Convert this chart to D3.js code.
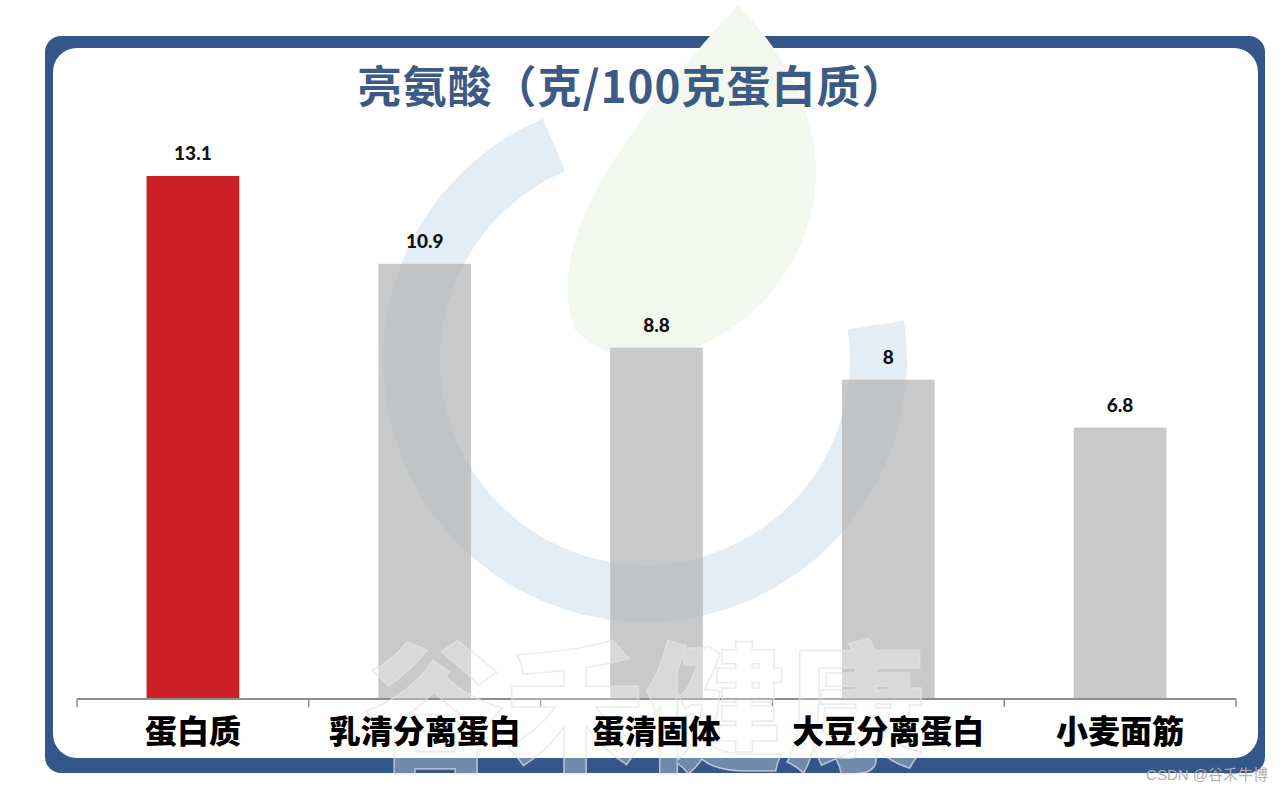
<!DOCTYPE html>
<html>
<head>
<meta charset="utf-8">
<script src="https://cdn.jsdelivr.net/npm/d3@7/dist/d3.min.js"></script>
<style>
  html, body { margin: 0; padding: 0; background: #ffffff; }
  svg { display: block; }
</style>
</head>
<body>
<svg id="chart" width="1285" height="793"></svg>
<script>
// ---- data ----
const categories = ["蛋白质", "乳清分离蛋白", "蛋清固体", "大豆分离蛋白", "小麦面筋"];
const values = [13.1, 10.9, 8.8, 8, 6.8];
const valueLabels = ["13.1", "10.9", "8.8", "8", "6.8"];
const barColors = ["#cc1f26", "#c9c9c9", "#c9c9c9", "#c9c9c9", "#c9c9c9"];
const titleText = "亮氨酸（克/100克蛋白质）";
const watermarkText = "谷禾健康";
const creditText = "CSDN @谷禾牛博";

const svg = d3.select("#chart");

// ---- frame ----
svg.append("rect")
  .attr("x", 45).attr("y", 36).attr("width", 1220).attr("height", 737)
  .attr("rx", 16).attr("ry", 16)
  .attr("fill", "#34568a");
svg.append("rect")
  .attr("x", 53).attr("y", 48).attr("width", 1205).attr("height", 710)
  .attr("rx", 24).attr("ry", 24)
  .attr("fill", "#ffffff");

// ---- faint logo (background decoration) ----
const ringArc = d3.arc()({ innerRadius: 205, outerRadius: 262, startAngle: Math.PI / 2 - 0.15, endAngle: 2 * Math.PI - 0.4 });
svg.append("path")
  .attr("transform", "translate(645,360)")
  .attr("d", ringArc)
  .attr("fill", "#eef5fb");
svg.append("path")
  .attr("d", "M738,5 C820,90 850,200 765,300 C705,360 625,380 575,330 C545,250 605,150 738,5 Z")
  .attr("fill", "#f3f8ef");

// ---- scales ----
const x = d3.scaleBand().domain(categories).range([77, 1236]).paddingInner(0.6).paddingOuter(0.3);
const y = d3.scaleLinear().domain([0, 13.1]).range([699, 176]);

// ---- bars ----
svg.append("g").selectAll("rect")
  .data(categories)
  .join("rect")
  .attr("x", d => x(d))
  .attr("y", (d, i) => y(values[i]))
  .attr("width", x.bandwidth())
  .attr("height", (d, i) => y(0) - y(values[i]))
  .attr("fill", (d, i) => barColors[i]);

// ring tint over bars
svg.append("path")
  .attr("transform", "translate(645,360)")
  .attr("d", ringArc)
  .attr("fill", "#5a8ab8").attr("opacity", 0.07);

// ---- value labels ----
svg.append("g").selectAll("text")
  .data(categories)
  .join("text")
  .attr("x", d => x(d) + x.bandwidth() / 2)
  .attr("y", (d, i) => y(values[i]) - 16)
  .attr("text-anchor", "middle")
  .attr("font-family", "Lato, 'Liberation Sans', sans-serif")
  .attr("font-weight", 900)
  .attr("font-size", 19)
  .attr("fill", "#111")
  .text((d, i) => valueLabels[i]);

// ---- axis ----
const axisG = svg.append("g").attr("transform", "translate(0,699)");
const edges = categories.map(d => x(d) - x.step() * x.paddingInner() / 2);
edges.push(x(categories[categories.length - 1]) + x.bandwidth() + x.step() * x.paddingInner() / 2);
axisG.append("line")
  .attr("x1", d3.min(edges)).attr("x2", d3.max(edges))
  .attr("y1", 0).attr("y2", 0)
  .attr("stroke", "#8c8c8c").attr("stroke-width", 2);
axisG.selectAll("line.tick")
  .data(edges)
  .join("line")
  .attr("class", "tick")
  .attr("x1", d => d).attr("x2", d => d)
  .attr("y1", 0).attr("y2", 8)
  .attr("stroke", "#8c8c8c").attr("stroke-width", 1.5);

// ---- watermark text (faint) ----
svg.append("text")
  .attr("x", 645).attr("y", 760)
  .attr("text-anchor", "middle")
  .attr("font-family", "'Noto Sans CJK SC', sans-serif")
  .attr("font-weight", 900)
  .attr("font-size", 140)
  .attr("fill", "#ffffff").attr("fill-opacity", 0.3)
  .attr("stroke", "#e2e2e2").attr("stroke-width", 1.5).attr("stroke-opacity", 0.7)
  .text(watermarkText);

// ---- category labels ----
svg.append("g").selectAll("text")
  .data(categories)
  .join("text")
  .attr("x", d => x(d) + x.bandwidth() / 2)
  .attr("y", 743)
  .attr("text-anchor", "middle")
  .attr("font-family", "'Noto Sans CJK SC', sans-serif")
  .attr("font-weight", 900)
  .attr("font-size", 32)
  .attr("fill", "#000")
  .text(d => d);

// ---- title ----
svg.append("text")
  .attr("x", 632).attr("y", 103)
  .attr("text-anchor", "middle")
  .attr("font-family", "'Noto Sans CJK SC', sans-serif")
  .attr("font-weight", 700)
  .attr("font-size", 44)
  .attr("letter-spacing", 1)
  .attr("fill", "#3d5a86")
  .text(titleText);

// ---- credit ----
svg.append("text")
  .attr("x", 1268).attr("y", 780)
  .attr("text-anchor", "end")
  .attr("font-family", "'Liberation Sans', 'Noto Sans CJK SC', sans-serif")
  .attr("font-size", 15)
  .attr("fill", "#b0b0b0")
  .text(creditText);
</script>
</body>
</html>
